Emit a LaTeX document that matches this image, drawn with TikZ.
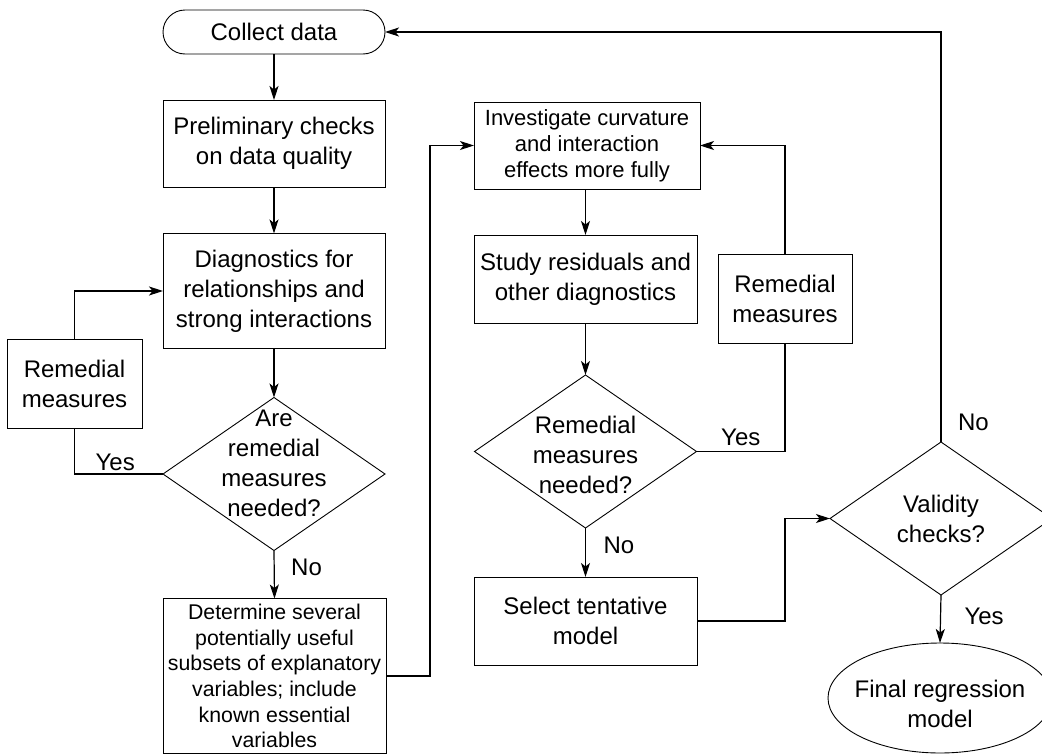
\documentclass[tikz,border=0pt]{standalone}
\usepackage{fontspec}
\setmainfont{Liberation Sans}
\usetikzlibrary{arrows.meta,shapes.geometric}

\begin{document}
\begin{tikzpicture}[x=1pt,y=-1pt,
  every node/.style={inner sep=0pt,outer sep=0pt},
  bigtext/.style={font=\fontsize{24}{30}\selectfont,align=center},
  smalltext/.style={font=\fontsize{21.3}{25.6}\selectfont,align=center},
  procbox/.style={draw,line width=0.9pt,rectangle},
  termbox/.style={draw,line width=0.9pt,rectangle,rounded corners=22pt},
  decision/.style={draw,line width=0.9pt,diamond},
  endblob/.style={draw,line width=0.9pt,ellipse},
  flow/.style={line width=1.2pt,-{Stealth[length=14pt,width=9pt,inset=3.5pt]}},
  link/.style={line width=1.2pt},
  answer/.style={font=\fontsize{24}{30}\selectfont}]

\useasboundingbox (0,0) rectangle (1042,755);

% left column
\node[termbox,minimum width=222,minimum height=44,bigtext] (collect) at (274,32) {Collect data};
\node[procbox,minimum width=222,minimum height=87,bigtext] (prelim) at (274,143.5) {Preliminary checks\\on data quality};
\node[procbox,minimum width=222,minimum height=115,bigtext] (diag) at (274,291) {Diagnostics for\\relationships and\\strong interactions};
\node[decision,minimum width=222,minimum height=153] (dia1) at (274,474) {};
\node[bigtext] (dia1t) at (274,463) {Are\\remedial\\measures\\needed?};
\node[procbox,minimum width=135,minimum height=89,bigtext] (rem1) at (74.5,383.5) {Remedial\\measures};
\node[procbox,minimum width=223,minimum height=155,smalltext] (determine) at (274.5,676) {Determine several\\potentially useful\\subsets of explanatory\\variables; include\\known essential\\variables};

% middle column
\node[procbox,minimum width=226,minimum height=87,font=\fontsize{22}{26}\selectfont,align=center] (invest) at (587,145.5) {Investigate curvature\\and interaction\\effects more fully};
\node[procbox,minimum width=223,minimum height=88,bigtext] (study) at (585.5,279) {Study residuals and\\other diagnostics};
\node[decision,minimum width=222,minimum height=153] (dia2) at (585.5,451.5) {};
\node[bigtext] (dia2t) at (585.5,455) {Remedial\\measures\\needed?};
\node[procbox,minimum width=134,minimum height=89,bigtext] (rem2) at (785,298.5) {Remedial\\measures};
\node[procbox,minimum width=223,minimum height=88,bigtext] (select) at (585.5,621) {Select tentative\\model};

% right column
\node[decision,minimum width=222,minimum height=153] (dia3) at (941,518.5) {};
\node[bigtext] (dia3t) at (941,519) {Validity\\checks?};
\node[endblob,minimum width=224,minimum height=110] (final) at (940,698) {};
\node[bigtext] (finalt) at (940,704) {Final regression\\model};

% connectors
\draw[flow] (collect.south) -- (prelim.north);
\draw[flow] (prelim.south) -- (diag.north);
\draw[flow] (diag.south) -- (dia1.north);
\draw[flow] (dia1.south) -- node[answer,right=17pt,pos=0.35] (no1) {No} (determine.north);
\draw[link] (dia1.west) -| node[answer,pos=0.27,above=3pt] (yes1) {Yes} (rem1.south);
\draw[flow] (rem1.north) |- (diag.west);
\draw[flow] (determine.east) -- ++(44,0) |- (invest.west);

\draw[flow] ([xshift=-1.5pt]invest.south) -- (study.north);
\draw[flow] (study.south) -- (dia2.north);
\draw[link] (dia2.east) -| node[answer,pos=0.25,above=6pt] (yes2) {Yes} (rem2.south);
\draw[flow] (rem2.north) |- (invest.east);
\draw[flow] (dia2.south) -- node[answer,right=18pt,pos=0.35] (no2) {No} (select.north);
\draw[flow] (select.east) -- ++(88,0) |- (dia3.west);

\draw[flow] (dia3.north) |- node[answer,pos=0.024,right=17pt] (no3) {No} (collect.east);
\draw[flow] (dia3.south) -- node[answer,right=24pt,pos=0.45] (yes3) {Yes} (final.north);

\end{tikzpicture}
\end{document}
